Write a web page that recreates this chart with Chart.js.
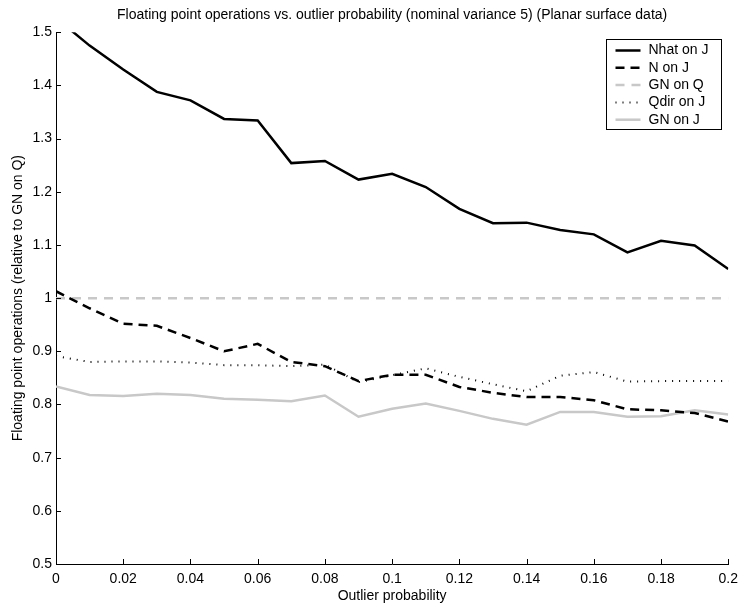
<!DOCTYPE html>
<html>
<head>
<meta charset="utf-8">
<title>Floating point operations vs. outlier probability</title>
<script src="https://cdn.jsdelivr.net/npm/chart.js@4.4.1/dist/chart.umd.min.js"></script>
<style>
  html, body { margin: 0; padding: 0; background: #fff; }
  #wrap { width: 745px; height: 608px; }
</style>
</head>
<body>
<div id="wrap"><canvas id="myChart" width="745" height="608"></canvas></div>
<script>
'use strict';

// outlier probability (x axis)
let probs = [0, 0.01, 0.02, 0.03, 0.04, 0.05, 0.06, 0.07, 0.08, 0.09, 0.1,
  0.11, 0.12, 0.13, 0.14, 0.15, 0.16, 0.17, 0.18, 0.19, 0.2];

// flops relative to GN on Q
let nhatOnJ = [1.527, 1.475, 1.43, 1.388, 1.372, 1.337, 1.334, 1.254, 1.258, 1.223, 1.234,
  1.209, 1.168, 1.141, 1.142, 1.128, 1.12, 1.086, 1.108, 1.099, 1.055];
let nOnJ = [1.013, 0.981, 0.952, 0.948, 0.925, 0.9, 0.914, 0.88, 0.872, 0.844, 0.856,
  0.856, 0.833, 0.822, 0.814, 0.814, 0.808, 0.791, 0.789, 0.784, 0.768];
let gnOnQ = [1, 1, 1, 1, 1, 1, 1, 1, 1, 1, 1, 1, 1, 1, 1, 1, 1, 1, 1, 1, 1];
let qdirOnJ = [0.891, 0.88, 0.881, 0.881, 0.879, 0.874, 0.874, 0.872, 0.875, 0.842, 0.855,
  0.868, 0.852, 0.838, 0.825, 0.854, 0.861, 0.843, 0.844, 0.844, 0.844];
let gnOnJ = [0.834, 0.818, 0.816, 0.82, 0.818, 0.811, 0.809, 0.806, 0.817, 0.777, 0.792,
  0.802, 0.788, 0.773, 0.762, 0.786, 0.786, 0.777, 0.778, 0.789, 0.781];

let seriesNames = ['Nhat on J', 'N on J', 'GN on Q', 'Qdir on J', 'GN on J'];

const fontFam = '"Liberation Sans", Arial, Helvetica, sans-serif';
const lightGray = '#c8c8c8';

function toPoints(arr) {
  return probs.map((p, i) => ({ x: p, y: arr[i] }));
}

// matlab style ticks pointing into the plot
const inwardTicks = {
  id: 'inwardTicks',
  afterDraw(chart) {
    const { ctx, chartArea, scales } = chart;
    ctx.save();
    ctx.strokeStyle = '#000';
    ctx.lineWidth = 1;
    ctx.beginPath();
    scales.x.ticks.forEach(t => {
      let px = Math.round(scales.x.getPixelForValue(t.value)) + 0.5;
      ctx.moveTo(px, chartArea.bottom);
      ctx.lineTo(px, chartArea.bottom - 5);
    });
    scales.y.ticks.forEach(t => {
      let py = Math.round(scales.y.getPixelForValue(t.value)) + 0.5;
      ctx.moveTo(chartArea.left, py);
      ctx.lineTo(chartArea.left + 5, py);
    });
    ctx.stroke();
    ctx.restore();
  }
};

// legend box inside the top right corner
const boxLegend = {
  id: 'boxLegend',
  afterDraw(chart) {
    const { ctx, chartArea } = chart;
    const w = 115;
    const h = 90;
    const left = Math.round(chartArea.right - 7 - w) + 0.5;
    const top = Math.round(chartArea.top + 7) + 0.5;
    ctx.save();
    ctx.fillStyle = '#fff';
    ctx.fillRect(left, top, w, h);
    ctx.strokeStyle = '#000';
    ctx.lineWidth = 1;
    ctx.strokeRect(left, top, w, h);
    ctx.font = '14px ' + fontFam;
    ctx.textBaseline = 'middle';
    chart.data.datasets.forEach((ds, i) => {
      let yy = top + 11 + i * 17.3;
      ctx.save();
      ctx.strokeStyle = ds.borderColor;
      ctx.lineWidth = ds.borderWidth;
      ctx.setLineDash(ds.borderDash || []);
      ctx.beginPath();
      ctx.moveTo(left + 9, yy);
      ctx.lineTo(left + 34, yy);
      ctx.stroke();
      ctx.restore();
      ctx.fillStyle = '#000';
      ctx.fillText(ds.label, left + 42, yy);
    });
    ctx.restore();
  }
};

Chart.defaults.font.family = fontFam;
Chart.defaults.font.size = 14;
Chart.defaults.color = '#000';

let ctx = document.getElementById('myChart').getContext('2d');
let myChart = new Chart(ctx, {
  type: 'line',
  data: {
    datasets: [
      {
        label: seriesNames[0],
        data: toPoints(nhatOnJ),
        borderColor: '#000',
        borderWidth: 2.5
      },
      {
        label: seriesNames[1],
        data: toPoints(nOnJ),
        borderColor: '#000',
        borderWidth: 2.5,
        borderDash: [9, 6]
      },
      {
        label: seriesNames[2],
        data: toPoints(gnOnQ),
        borderColor: lightGray,
        borderWidth: 2.5,
        borderDash: [9, 7]
      },
      {
        label: seriesNames[3],
        data: toPoints(qdirOnJ),
        borderColor: '#000',
        borderWidth: 2,
        borderDash: [1, 6]
      },
      {
        label: seriesNames[4],
        data: toPoints(gnOnJ),
        borderColor: lightGray,
        borderWidth: 2.5
      }
    ]
  },
  options: {
    responsive: false,
    animation: false,
    devicePixelRatio: 1,
    layout: { padding: { left: 0, right: 13, top: 0, bottom: 0 } },
    elements: {
      point: { radius: 0 },
      line: { tension: 0, fill: false, borderCapStyle: 'butt' }
    },
    plugins: {
      legend: { display: false },
      tooltip: { enabled: false },
      title: {
        display: true,
        fullSize: false,
        text: 'Floating point operations vs. outlier probability (nominal variance 5) (Planar surface data)',
        font: { size: 14, weight: 'normal' },
        padding: { top: 7, bottom: 8.5 }
      }
    },
    scales: {
      x: {
        type: 'linear',
        min: 0,
        max: 0.2,
        afterFit(scale) { scale.height = 44; },
        grid: { display: false, drawTicks: false },
        border: { display: true, color: '#000', width: 1 },
        ticks: {
          stepSize: 0.02,
          padding: 7,
          maxRotation: 0,
          callback: v => String(+v.toFixed(2))
        },
        title: {
          display: true,
          text: 'Outlier probability',
          font: { size: 14 },
          padding: { top: 0, bottom: 3 }
        }
      },
      y: {
        min: 0.5,
        max: 1.5,
        afterFit(scale) { scale.width = 56; },
        grid: { display: false, drawTicks: false },
        border: { display: true, color: '#000', width: 1 },
        ticks: {
          stepSize: 0.1,
          padding: 4,
          callback: v => String(+v.toFixed(1))
        },
        title: {
          display: true,
          text: 'Floating point operations (relative to GN on Q)',
          font: { size: 14 },
          padding: { top: 10, bottom: 0 }
        }
      }
    }
  },
  plugins: [inwardTicks, boxLegend]
});
</script>
</body>
</html>
